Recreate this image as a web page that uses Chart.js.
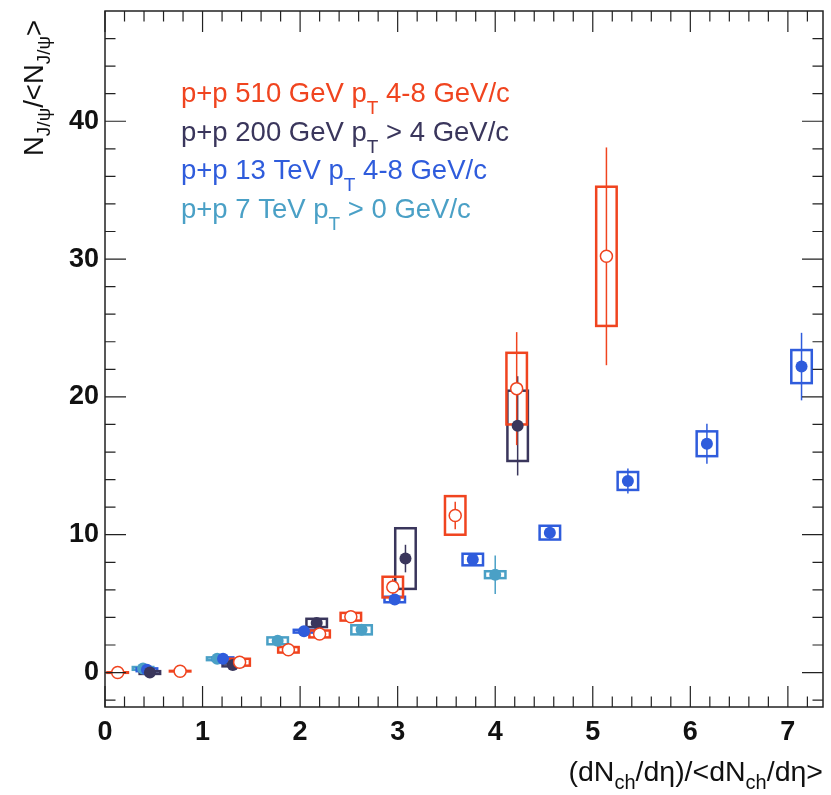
<!DOCTYPE html>
<html>
<head>
<meta charset="utf-8">
<script src="https://cdn.jsdelivr.net/npm/chart.js@4.4.1/dist/chart.umd.min.js"></script>
<style>
  body { margin: 0; background: #fff; }
  #wrap { width: 831px; height: 795px; }
</style>
</head>
<body>
<div id="wrap"><canvas id="chart" width="831" height="795"></canvas></div>
<script>
// =====================================
// DATA
// =====================================
// p+p 510 GeV, pT 4-8 GeV/c (open circles)
const x510 = [0.13, 0.77, 1.38, 1.88, 2.20, 2.52, 2.95, 3.59, 4.22, 5.14];
const y510 = [0.0, 0.1, 0.75, 1.65, 2.8, 4.05, 6.2, 11.4, 20.6, 30.2];
const stat510 = [0.05, 0.1, 0.15, 0.2, 0.25, 0.3, 0.6, 1.0, 4.1, 7.9];
const sys510 = [0.02, 0.02, 0.25, 0.2, 0.25, 0.28, 0.75, 1.4, 2.6, 5.05];

// p+p 200 GeV, pT > 4 GeV/c
const x200 = [0.46, 1.31, 2.17, 3.08, 4.23];
const y200 = [0.0, 0.55, 3.6, 8.27, 17.9];
const stat200 = [0.1, 0.1, 0.2, 1.0, 3.6];
const sys200 = [0.1, 0.1, 0.3, 2.2, 2.55];

// p+p 13 TeV, pT 4-8 GeV/c
const x13 = [0.43, 1.21, 2.04, 2.97, 3.77, 4.56, 5.36, 6.17, 7.14];
const y13 = [0.2, 1.0, 3.0, 5.3, 8.2, 10.15, 13.9, 16.6, 22.2];
const stat13 = [0.05, 0.05, 0.1, 0.15, 0.3, 0.5, 0.9, 1.45, 2.45];
const sys13 = [0.1, 0.1, 0.1, 0.2, 0.42, 0.5, 0.65, 0.9, 1.2];

// p+p 7 TeV, pT > 0 GeV/c
const x7 = [0.39, 1.15, 1.77, 2.63, 4.0];
const y7 = [0.3, 1.0, 2.3, 3.1, 7.1];
const stat7 = [0.1, 0.1, 0.15, 0.2, 1.4];
const sys7 = [0.1, 0.1, 0.25, 0.33, 0.25];

// legend text (pre, subscript, post)
const legendPre = ["p+p 510 GeV p", "p+p 200 GeV p", "p+p 13 TeV p", "p+p 7 TeV p"];
const legendSub = ["T", "T", "T", "T"];
const legendPost = [" 4-8 GeV/c", " > 4 GeV/c", " 4-8 GeV/c", " > 0 GeV/c"];

// axis range
const X_MIN = 0, X_MAX = 7.36;
const Y_MIN = -2.5, Y_MAX = 48;

// =====================================
// STYLE
// =====================================
const FONT = '"Liberation Sans", Arial, Helvetica, sans-serif';
const RED = "#f0441f";
const NAVY = "#3a365c";
const BLUE = "#2f5cdc";
const LIGHT = "#4aa0c6";
const BOX_HALF = 0.105; // box half-width in x units

const series = [
  { xs: x510, ys: y510, stat: stat510, sys: sys510, color: RED, open: true },
  { xs: x200, ys: y200, stat: stat200, sys: sys200, color: NAVY, open: false },
  { xs: x13, ys: y13, stat: stat13, sys: sys13, color: BLUE, open: false },
  { xs: x7, ys: y7, stat: stat7, sys: sys7, color: LIGHT, open: false }
];

// =====================================
// HELPERS
// =====================================
function drawRich(ctx, parts, x, y, size, subSize, subDrop) {
  let cx = x;
  parts.forEach(p => {
    ctx.font = `${p.sub ? subSize : size}px ${FONT}`;
    ctx.fillText(p.t, cx, y + (p.sub ? subDrop : 0));
    cx += ctx.measureText(p.t).width;
  });
  return cx - x;
}

function richWidth(ctx, parts, size, subSize) {
  let w = 0;
  parts.forEach(p => {
    ctx.font = `${p.sub ? subSize : size}px ${FONT}`;
    w += ctx.measureText(p.t).width;
  });
  return w;
}

// =====================================
// PLUGINS
// =====================================
const errorBoxPlugin = {
  id: "errorBoxes",
  beforeDatasetsDraw(chart) {
    const { ctx, chartArea, scales: { x, y } } = chart;
    ctx.save();
    ctx.beginPath();
    ctx.rect(chartArea.left, chartArea.top, chartArea.width, chartArea.height);
    ctx.clip();
    series.slice().reverse().forEach(s => {
      ctx.strokeStyle = s.color;
      s.xs.forEach((xv, i) => {
        const yv = s.ys[i];
        // systematic box
        const l = x.getPixelForValue(xv - BOX_HALF);
        const r = x.getPixelForValue(xv + BOX_HALF);
        const t = y.getPixelForValue(yv + s.sys[i]);
        const b = y.getPixelForValue(yv - s.sys[i]);
        ctx.lineWidth = 2.5;
        ctx.strokeRect(l, t, r - l, b - t);
        // statistical bar
        const px = x.getPixelForValue(xv);
        ctx.lineWidth = 1.5;
        ctx.beginPath();
        ctx.moveTo(px, y.getPixelForValue(yv + s.stat[i]));
        ctx.lineTo(px, y.getPixelForValue(yv - s.stat[i]));
        ctx.stroke();
      });
    });
    ctx.restore();
  }
};

const framePlugin = {
  id: "rootFrame",
  afterDraw(chart) {
    const { ctx, chartArea: a, scales: { x, y } } = chart;
    ctx.save();
    ctx.strokeStyle = "#222";
    ctx.lineWidth = 1.5;
    ctx.strokeRect(a.left, a.top, a.right - a.left, a.bottom - a.top);

    // x ticks (bottom + top), every 0.2
    ctx.lineWidth = 1.2;
    for (let i = 0; i <= 36; i++) {
      const px = x.getPixelForValue(i / 5);
      const len = i % 5 === 0 ? 21 : 10.5;
      ctx.beginPath();
      ctx.moveTo(px, a.bottom); ctx.lineTo(px, a.bottom - len);
      ctx.moveTo(px, a.top); ctx.lineTo(px, a.top + len);
      ctx.stroke();
    }
    // y ticks (left + right), every 2
    for (let v = -2; v <= 46; v += 2) {
      const py = y.getPixelForValue(v);
      const len = v % 10 === 0 ? 21 : 10.5;
      ctx.beginPath();
      ctx.moveTo(a.left, py); ctx.lineTo(a.left + len, py);
      ctx.moveTo(a.right, py); ctx.lineTo(a.right - len, py);
      ctx.stroke();
    }

    // y title
    ctx.fillStyle = "#111";
    ctx.textBaseline = "alphabetic";
    ctx.textAlign = "left";
    ctx.save();
    ctx.translate(43, 156);
    ctx.rotate(-Math.PI / 2);
    drawRich(ctx, [
      { t: "N" }, { t: "J/\u03c8", sub: true }, { t: "/<N" }, { t: "J/\u03c8", sub: true }, { t: ">" }
    ], 0, 0, 27.5, 19, 7);
    ctx.restore();

    // x title, right aligned to frame
    const xParts = [
      { t: "(dN" }, { t: "ch", sub: true }, { t: "/d\u03b7)/<dN" }, { t: "ch", sub: true }, { t: "/d\u03b7>" }
    ];
    const w = richWidth(ctx, xParts, 28.5, 20);
    drawRich(ctx, xParts, a.right - w, 781, 28.5, 20, 8);

    // legend
    const colors = [RED, NAVY, BLUE, LIGHT];
    legendPre.forEach((pre, i) => {
      ctx.fillStyle = colors[i];
      drawRich(ctx, [{ t: pre }, { t: legendSub[i], sub: true }, { t: legendPost[i] }],
        181, 102 + i * 38.5, 27.5, 19, 12);
    });
    ctx.restore();
  }
};

// =====================================
// CHART
// =====================================
const datasets = series.map(s => ({
  data: s.xs.map((xv, i) => ({ x: xv, y: s.ys[i] })),
  pointStyle: "circle",
  pointRadius: 6,
  pointBackgroundColor: s.open ? "#fff" : s.color,
  pointBorderColor: s.color,
  pointBorderWidth: s.open ? 1.5 : 0,
  showLine: false
}));

new Chart(document.getElementById("chart"), {
  type: "scatter",
  data: { datasets },
  options: {
    responsive: false,
    animation: false,
    events: [],
    layout: { padding: { left: 0, right: 8, top: 11, bottom: 0 } },
    plugins: { legend: { display: false }, tooltip: { enabled: false } },
    scales: {
      x: {
        type: "linear",
        min: X_MIN,
        max: X_MAX,
        grid: { display: false, drawTicks: false },
        border: { display: false },
        ticks: {
          stepSize: 1,
          includeBounds: false,
          padding: 9,
          color: "#111",
          font: { family: FONT, size: 27, weight: "bold" }
        },
        afterFit: s => { s.height = 88; s.paddingLeft = 0; s.paddingRight = 0; }
      },
      y: {
        type: "linear",
        min: Y_MIN,
        max: Y_MAX,
        grid: { display: false, drawTicks: false },
        border: { display: false },
        ticks: {
          stepSize: 10,
          includeBounds: false,
          padding: 6,
          color: "#111",
          font: { family: FONT, size: 27, weight: "bold" }
        },
        afterFit: s => { s.width = 105; s.paddingTop = 0; s.paddingBottom = 0; }
      }
    }
  },
  plugins: [errorBoxPlugin, framePlugin]
});
</script>
</body>
</html>
